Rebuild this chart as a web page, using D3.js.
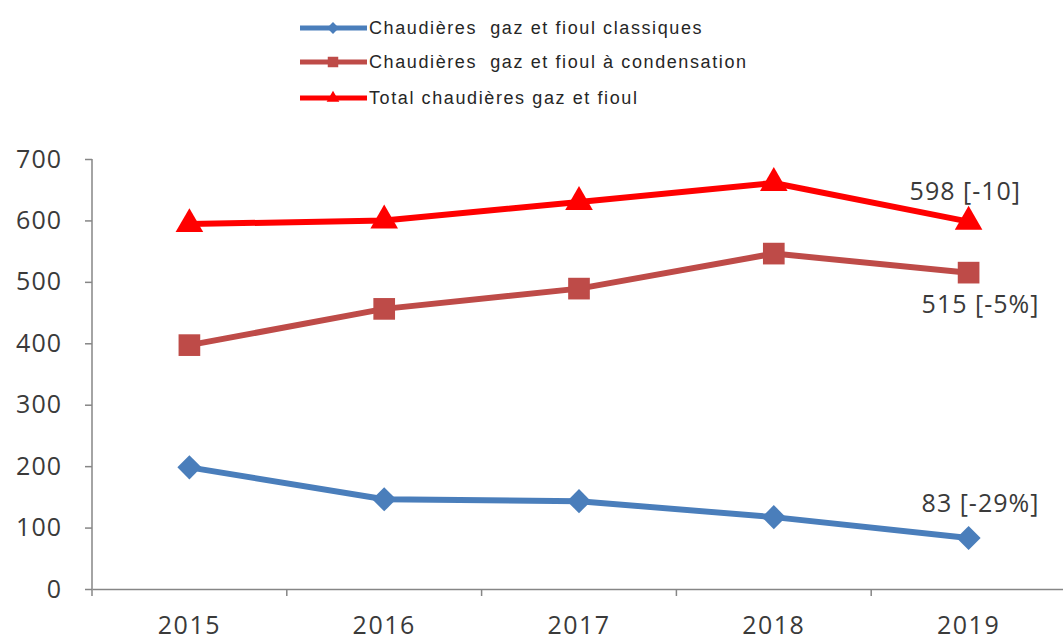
<!DOCTYPE html>
<html>
<head>
<meta charset="utf-8">
<script src="https://cdn.jsdelivr.net/npm/d3@7"></script>
<style>
  body { margin: 0; background: #fff; }
  svg { display: block; }
</style>
</head>
<body>
<div id="chart"></div>
<script>
// donnees
var annees = ["2015", "2016", "2017", "2018", "2019"];
var classiques = [198, 146, 143, 117, 83];
var condensation = [397, 456, 489, 546, 515];
var total = [594, 600, 630, 661, 598];
var yTicks = [0, 100, 200, 300, 400, 500, 600, 700];
var noms = ["Chaudières  gaz et fioul classiques", "Chaudières  gaz et fioul à condensation", "Total chaudières gaz et fioul"];
var etiquettes = ["83 [-29%]", "515 [-5%]", "598 [-10]"];

var width = 1063, height = 642;
var mLeft = 92, mRight = 1066, mTop = 159, mBottom = 589;

// losange = carre tourne de 45 degres
var series = [
    { nom: noms[0], valeurs: classiques, couleur: "#4A7EBB", forme: d3.symbolSquare, rot: 45, taille: 290, label: etiquettes[0], dx: -47, dy: -26 },
    { nom: noms[1], valeurs: condensation, couleur: "#BE4B48", forme: d3.symbolSquare, rot: 0, taille: 470, label: etiquettes[1], dx: -47, dy: 40 },
    { nom: noms[2], valeurs: total, couleur: "#FF0000", forme: d3.symbolTriangle, rot: 0, taille: 330, label: etiquettes[2], dx: -59, dy: -22 }
];

var svg = d3.select("#chart").append("svg")
    .attr("width", width)
    .attr("height", height);

var x = d3.scaleBand().domain(annees).range([mLeft, mRight]);
var y = d3.scaleLinear().domain([0, 700]).range([mBottom, mTop]);

var grisAxe = "#868686";
var texte = "#3a3a3a";
var police = "'Open Sans', sans-serif";

// axe y
var axeY = svg.append("g")
    .attr("transform", "translate(" + mLeft + ",0)")
    .call(d3.axisLeft(y).tickValues(yTicks).tickSize(7).tickPadding(23));
axeY.select(".domain").attr("stroke", grisAxe).attr("stroke-width", 1.5).attr("d", "M0," + mTop + "V" + (mBottom + 7));
axeY.selectAll(".tick line").attr("stroke", grisAxe).attr("stroke-width", 1.5);
axeY.selectAll(".tick text")
    .attr("fill", texte)
    .style("font-family", police)
    .style("font-size", "25px")
    .style("letter-spacing", "1px");

// axe x
var axeX = svg.append("g")
    .attr("transform", "translate(0," + mBottom + ")")
    .call(d3.axisBottom(x).tickSize(0).tickPadding(21));
axeX.select(".domain").attr("stroke", grisAxe).attr("stroke-width", 1.5);
axeX.selectAll(".tick text")
    .attr("fill", texte)
    .attr("dy", "0.95em")
    .style("font-family", police)
    .style("font-size", "25px")
    .style("letter-spacing", "1.5px");
// petits traits entre les annees
axeX.selectAll("line.sep")
    .data(annees.slice(1))
    .enter()
    .append("line")
    .attr("class", "sep")
    .attr("x1", function (d) { return x(d); })
    .attr("x2", function (d) { return x(d); })
    .attr("y1", 0)
    .attr("y2", 7)
    .attr("stroke", grisAxe)
    .attr("stroke-width", 1.5);

var ligne = d3.line()
    .x(function (d, i) { return x(annees[i]) + x.bandwidth() / 2; })
    .y(function (d) { return y(d); });

series.forEach(function (s) {
    var g = svg.append("g");
    g.append("path")
        .datum(s.valeurs)
        .attr("d", ligne)
        .attr("fill", "none")
        .attr("stroke", s.couleur)
        .attr("stroke-width", 6)
        .attr("stroke-linejoin", "round");

    g.selectAll("path.pt")
        .data(s.valeurs)
        .enter()
        .append("path")
        .attr("class", "pt")
        .attr("d", d3.symbol().type(s.forme).size(s.taille))
        .attr("transform", function (d, i) {
            return "translate(" + (x(annees[i]) + x.bandwidth() / 2) + "," + y(d) + ") rotate(" + s.rot + ")";
        })
        .attr("fill", s.couleur);

    var dernier = s.valeurs.length - 1;
    g.append("text")
        .attr("x", x(annees[dernier]) + x.bandwidth() / 2 + s.dx)
        .attr("y", y(s.valeurs[dernier]) + s.dy)
        .attr("fill", texte)
        .style("font-family", police)
        .style("font-size", "25px")
        .style("letter-spacing", "1px")
        .text(s.label);
});

// legende
var legende = svg.append("g");
var lignesLeg = [28, 62, 98];
series.forEach(function (s, i) {
    var ly = lignesLeg[i];
    legende.append("line")
        .attr("x1", 300).attr("x2", 367)
        .attr("y1", ly).attr("y2", ly)
        .attr("stroke", s.couleur)
        .attr("stroke-width", 5);
    legende.append("path")
        .attr("d", d3.symbol().type(s.forme).size(i == 1 ? 110 : 70))
        .attr("transform", "translate(333," + ly + ") rotate(" + s.rot + ")")
        .attr("fill", s.couleur);
    legende.append("text")
        .attr("x", 369)
        .attr("y", ly + 6)
        .attr("fill", "#262626")
        .style("font-family", "'Liberation Sans', sans-serif")
        .style("font-size", "18px")
        .style("letter-spacing", "1.6px")
        .style("white-space", "pre")
        .text(s.nom);
});
</script>
</body>
</html>
